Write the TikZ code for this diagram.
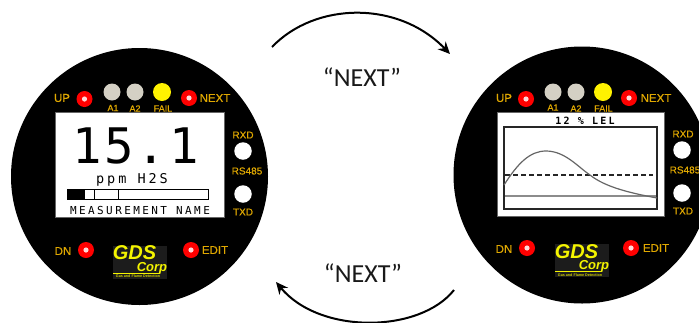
\documentclass[tikz,border=0pt]{standalone}
\usepackage{fontspec}
\setmainfont{Liberation Sans}
\newfontfamily\lcdfont[LetterSpace=6]{DejaVu Sans Mono}
\newfontfamily\lcdwide[LetterSpace=22]{DejaVu Sans Mono}
\newfontfamily\nextfont{Carlito}
\newfontfamily\panelfont[FakeBold=0.5]{Liberation Sans}
\usetikzlibrary{arrows.meta}
\definecolor{labelgold}{HTML}{E0A800}
\definecolor{lampgrey}{HTML}{D4D0C4}
\definecolor{logobg}{HTML}{1C1C1C}
\definecolor{logoyellow}{HTML}{F4F400}
\tikzset{
  body/.style={circle,fill=black,minimum size=257pt,inner sep=0pt},
  led/.style={circle,fill=red,minimum size=16pt,inner sep=0pt,
    path picture={\fill[white!85!red] (path picture bounding box.center) circle (2.6pt);}},
  lamp/.style={circle,fill=lampgrey,minimum size=17pt,inner sep=0pt},
  faillamp/.style={circle,fill=yellow,minimum size=18pt,inner sep=0pt},
  port/.style={circle,fill=white,minimum size=17.5pt,inner sep=0pt},
  panellabel/.style={text=labelgold,font=\panelfont\fontsize{11.5}{12}\selectfont,inner sep=0pt},
  smalllabel/.style={text=labelgold,font=\panelfont\fontsize{9}{10}\selectfont,inner sep=0pt},
  portlabel/.style={text=labelgold,font=\panelfont\fontsize{10}{11}\selectfont,inner sep=0pt},
  screen/.style={fill=white,draw=black!60,line width=.5pt},
  lcd/.style={text=black,inner sep=0pt},
  nextlabel/.style={font=\nextfont\fontsize{26}{27}\selectfont,text=black!90,inner sep=0pt},
  turn/.style={line width=2pt,black,-{Stealth[length=12pt,width=11pt]}},
}
\newcommand{\gdslogo}[3]{%
  \fill[logobg] (#2-27,#3-16.5) rectangle (#2+27,#3+16.5);
  \node[inner sep=0pt,anchor=base,text=logoyellow,font=\fontsize{20}{20}\selectfont\bfseries\itshape] (#1gds) at (#2-5.5,#3-2.5) {GDS};
  \node[inner sep=0pt,anchor=base,text=logoyellow,font=\fontsize{13}{13}\selectfont\bfseries\itshape] (#1corp) at (#2+12,#3+9) {Corp};
  \fill[logoyellow] (#2-27,#3+10.8) rectangle (#2+20,#3+11.4);
  \node[inner sep=0pt,anchor=base,text=logoyellow!85!black,font=\fontsize{3.7}{4}\selectfont\bfseries] (#1tag) at (#2-2,#3+15.5) {Gas and Flame Detection};
}
\begin{document}
\begin{tikzpicture}[x=1pt,y=-1pt]
\useasboundingbox (0,0) rectangle (699,322);
\clip (0,0) rectangle (699,322);

% left instrument
\node[body] (lb) at (139.5,176.5) {};
\node[panellabel] (lup) at (62,98) {UP};
\node[led] (lupled) at (84.5,99) {};
\node[lamp] (la1) at (112,92) {};
\node[lamp] (la2) at (135,92) {};
\node[faillamp] (lfail) at (162,92) {};
\node[led] (lnextled) at (189,98) {};
\node[panellabel] (lnext) at (215,98) {NEXT};
\node[smalllabel] (la1t) at (113,108) {A1};
\node[smalllabel] (la2t) at (135,108.5) {A2};
\node[smalllabel] (lfailt) at (163,108.5) {FAIL};
\node[portlabel] (lrxd) at (243,135) {RXD};
\node[port] (lrxdp) at (243,151) {};
\node[portlabel] (lrs) at (247,171) {RS485};
\node[port] (ltxdp) at (243,194) {};
\node[portlabel] (ltxd) at (243,212) {TXD};
\node[panellabel] (ldn) at (63,251) {DN};
\node[led] (ldnled) at (86,250) {};
\node[led] (leditled) at (191,250) {};
\node[panellabel] (ledit) at (215,250) {EDIT};
\filldraw[screen] (55,112) rectangle (224,217);
\node[lcd,anchor=base,font=\lcdfont\fontsize{49}{50}\selectfont] (lval) at (135.5,163) {15.1};
\node[lcd,anchor=base,font=\lcdwide\fontsize{13.5}{14}\selectfont] (lunit) at (132,183) {ppm H2S};
\draw[black,line width=.9pt] (67,189) rectangle (208,199);
\fill[black] (67,189) rectangle (85,199);
\draw[black,line width=.9pt] (94,189) -- (94,199) (118,189) -- (118,199);
\node[lcd,anchor=base,font=\lcdwide\fontsize{11}{12}\selectfont] (lname) at (140,214) {MEASUREMENT NAME};
\gdslogo{ll}{140}{262}

% right instrument
\node[body] (rb) at (582,175) {};
\node[panellabel] (rup) at (504,98) {UP};
\node[led] (rupled) at (526,99) {};
\node[lamp] (ra1) at (553,92) {};
\node[lamp] (ra2) at (576,92) {};
\node[faillamp] (rfail) at (603,92) {};
\node[led] (rnextled) at (629,98) {};
\node[panellabel] (rnext) at (656,98) {NEXT};
\node[smalllabel] (ra1t) at (553,107.5) {A1};
\node[smalllabel] (ra2t) at (576,108.5) {A2};
\node[smalllabel] (rfailt) at (603.5,108.5) {FAIL};
\node[portlabel] (rrxd) at (683,134) {RXD};
\node[port] (rrxdp) at (682,150) {};
\node[portlabel] (rrs) at (685,170) {RS485};
\node[port] (rtxdp) at (682,193) {};
\node[portlabel] (rtxd) at (683,211) {TXD};
\node[panellabel] (rdn) at (504,249) {DN};
\node[led] (rdnled) at (527,248) {};
\node[led] (reditled) at (631,248) {};
\node[panellabel] (redit) at (656,248) {EDIT};
\filldraw[screen] (497,112) rectangle (664,216);
\node[lcd,anchor=base,font=\lcdwide\bfseries\fontsize{10}{11}\selectfont] (rtitle) at (585,124) {12 \% LEL};
\draw[black!85,line width=1.3pt] (504,127) rectangle (657,209);
\draw[black!85,line width=1.1pt,dash pattern=on 5pt off 3pt] (505,175) -- (653,175);
\draw[black!45,line width=1.3pt] (505,196) -- (656,196);
\draw[black!60,line width=1.2pt] (504,185) .. controls (518,163) and (530,151) .. (546,151)
  .. controls (565,151) and (578,167) .. (590,175)
  .. controls (605,187) and (630,193) .. (657,198);
\gdslogo{rl}{582}{260.5}

% cycle arrows
\coordinate (topfrom) at (272,47);
\coordinate (topto) at (450,54);
\coordinate (botfrom) at (454,290);
\coordinate (botto) at (276,282);
\draw[turn] (topfrom) .. controls (315,2) and (398,0) .. (topto);
\draw[turn] (botfrom) .. controls (420,333) and (320,335) .. (botto);
\node[nextlabel] (topnext) at (362,77) {“NEXT”};
\node[nextlabel] (botnext) at (363,273) {“NEXT”};
\end{tikzpicture}
\end{document}
